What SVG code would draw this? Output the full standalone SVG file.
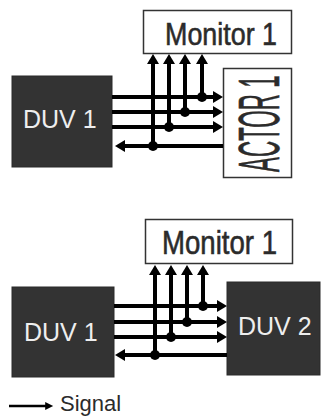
<svg xmlns="http://www.w3.org/2000/svg" width="321" height="416" viewBox="0 0 321 416">
<defs>
<style>
.box{fill:#fff;stroke:#333;stroke-width:1.5}
.dark{fill:#333;stroke:#2a2a2a;stroke-width:1}
.lbl{font-family:"Liberation Sans",Arial,sans-serif;fill:#2b2b2b}
.bold{stroke:#2b2b2b;stroke-width:0.6}
.wl{font-family:"Liberation Sans",Arial,sans-serif;fill:#eeeeee;font-size:25px}
.sig{fill:none;stroke:#000;stroke-width:4}
.dot{fill:#000}
</style>
<marker id="ah" viewBox="0 0 10 12" refX="1" refY="6" markerWidth="10" markerHeight="12" markerUnits="userSpaceOnUse" orient="auto">
<path d="M0,0 L10,6 L0,12 z" fill="#000"/>
</marker>
<marker id="ahs" viewBox="0 0 10 10" refX="1" refY="5" markerWidth="9" markerHeight="8" markerUnits="userSpaceOnUse" orient="auto">
<path d="M0,0 L10,5 L0,10 z" fill="#000"/>
</marker>
</defs>
<rect width="321" height="416" fill="#fff"/>

<g id="monitor1-top">
<rect class="box" x="143.5" y="10.5" width="148" height="43"/>
<text class="lbl bold" transform="translate(165,45) scale(0.84,1)" x="0" y="0" font-size="32">Monitor 1</text>
</g>
<g id="actor1">
<rect class="box" x="223.5" y="68.5" width="68" height="109"/>
<text class="lbl bold" transform="translate(279,172) rotate(-90) scale(0.386,1)" x="0" y="0" font-size="58">ACTOR 1</text>
</g>
<g id="duv1-top">
<rect class="dark" x="12" y="76" width="100" height="91"/>
<text class="wl" x="23" y="128">DUV 1</text>
</g>

<g id="monitor1-bottom">
<rect class="box" x="145.5" y="219.5" width="147" height="44"/>
<text class="lbl bold" transform="translate(162,254) scale(0.836,1)" x="0" y="0" font-size="33">Monitor 1</text>
</g>
<g id="duv1-bottom">
<rect class="dark" x="12" y="287" width="102" height="90"/>
<text class="wl" x="24" y="341">DUV 1</text>
</g>
<g id="duv2">
<rect class="dark" x="227" y="282" width="93" height="93"/>
<text class="wl" x="238" y="335">DUV 2</text>
</g>

<g id="connectors">
<line class="sig" x1="112" y1="97" x2="214" y2="97" marker-end="url(#ah)"/>
<line class="sig" x1="112" y1="112" x2="214" y2="112" marker-end="url(#ah)"/>
<line class="sig" x1="112" y1="127" x2="214" y2="127" marker-end="url(#ah)"/>
<line class="sig" x1="223" y1="146" x2="124" y2="146" marker-end="url(#ah)"/>
<line class="sig" x1="153" y1="146" x2="153" y2="63" marker-end="url(#ah)"/>
<line class="sig" x1="169" y1="127" x2="169" y2="63" marker-end="url(#ah)"/>
<line class="sig" x1="185" y1="112" x2="185" y2="63" marker-end="url(#ah)"/>
<line class="sig" x1="202" y1="97" x2="202" y2="63" marker-end="url(#ah)"/>
<circle class="dot" cx="153" cy="146" r="5"/>
<circle class="dot" cx="169" cy="127" r="5"/>
<circle class="dot" cx="185" cy="112" r="5"/>
<circle class="dot" cx="202" cy="97" r="5"/>

<line class="sig" x1="114" y1="306" x2="218" y2="306" marker-end="url(#ah)"/>
<line class="sig" x1="114" y1="322" x2="218" y2="322" marker-end="url(#ah)"/>
<line class="sig" x1="114" y1="337" x2="218" y2="337" marker-end="url(#ah)"/>
<line class="sig" x1="227" y1="355" x2="124" y2="355" marker-end="url(#ah)"/>
<line class="sig" x1="155" y1="355" x2="155" y2="274" marker-end="url(#ah)"/>
<line class="sig" x1="171" y1="337" x2="171" y2="274" marker-end="url(#ah)"/>
<line class="sig" x1="187" y1="322" x2="187" y2="274" marker-end="url(#ah)"/>
<line class="sig" x1="203" y1="306" x2="203" y2="274" marker-end="url(#ah)"/>
<circle class="dot" cx="155" cy="355" r="5"/>
<circle class="dot" cx="171" cy="337" r="5"/>
<circle class="dot" cx="187" cy="322" r="5"/>
<circle class="dot" cx="203" cy="306" r="5"/>
</g>

<g id="legend">
<line x1="9" y1="406" x2="46" y2="406" stroke="#000" stroke-width="2.5" marker-end="url(#ahs)"/>
<text class="lbl" x="60" y="411" font-size="22">Signal</text>
</g>
</svg>
